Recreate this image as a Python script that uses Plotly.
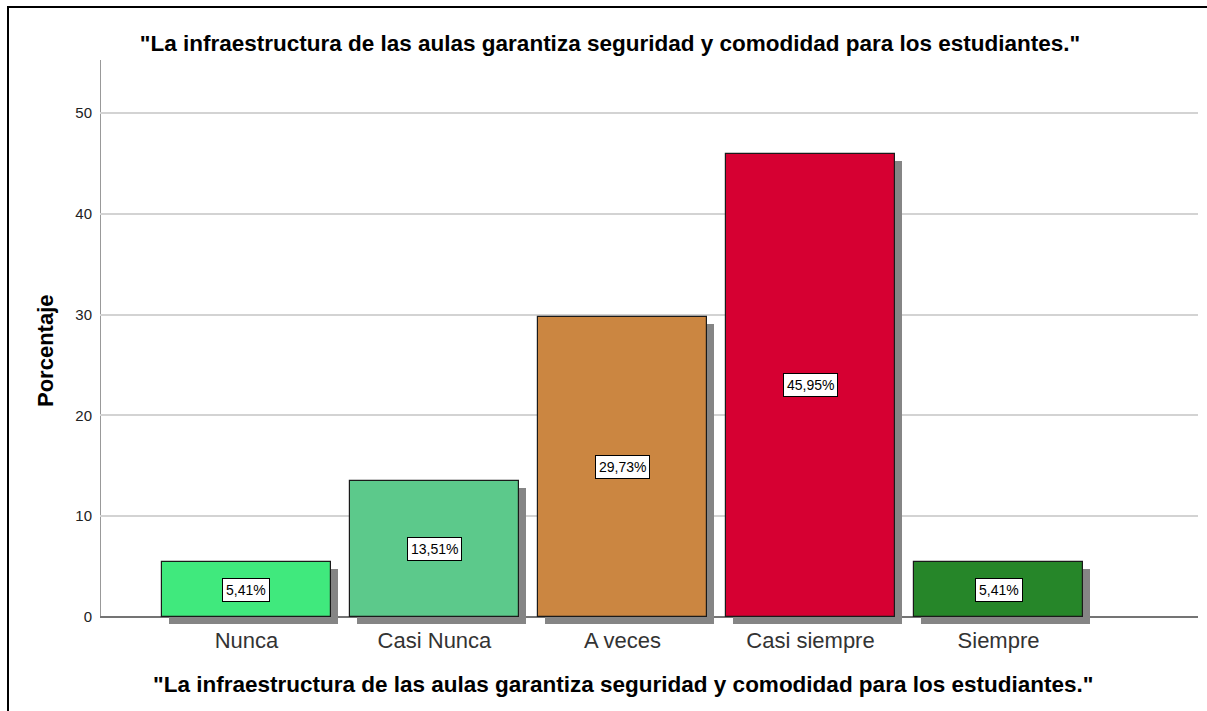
import plotly.graph_objects as go

# ---- data ----
categories = ["Nunca", "Casi Nunca", "A veces", "Casi siempre", "Siempre"]
percentages = [5.41, 13.51, 29.73, 45.95, 5.41]
bar_colors = ["#40E97D", "#5CC98B", "#CB8641", "#D60032", "#268629"]
y_ticks = [0, 10, 20, 30, 40, 50]
title_text = '"La infraestructura de las aulas garantiza seguridad y comodidad para los estudiantes."'
y_title = "Porcentaje"

# ---- geometry (pixels) ----
W, H = 1207, 711
L, R, T, B = 100, 9, 60, 86
plot_w = W - L - R
plot_h = H - T - B
px_y = 10.08
y_range = [-(H - B - 617) / px_y, (617 - T) / px_y]
x_range = [-0.779, 5.061]
px_x = plot_w / (x_range[1] - x_range[0])
shadow_dx = 7 / px_x
shadow_dy = 7 / px_y

idx = list(range(len(categories)))
labels = [f"{v:.2f}".replace(".", ",") + "%" for v in percentages]

FONT = "Arial, Liberation Sans, sans-serif"

fig = go.Figure()

# shadows
fig.add_trace(go.Bar(
    x=[i + shadow_dx for i in idx],
    y=percentages,
    base=[-shadow_dy] * len(idx),
    width=0.9,
    marker=dict(color="#858585", line=dict(width=0)),
    hoverinfo="skip",
    showlegend=False,
))
# bars
fig.add_trace(go.Bar(
    x=idx,
    y=percentages,
    width=0.9,
    marker=dict(color=bar_colors, line=dict(color="#1a1a1a", width=1.2)),
    showlegend=False,
))

# value labels
for i, v, lab in zip(idx, percentages, labels):
    fig.add_annotation(
        x=i, y=v / 2, xref="x", yref="y", text=lab, showarrow=False,
        font=dict(family=FONT, size=14, color="#000000"),
        bgcolor="#FFFFFF", bordercolor="#000000", borderwidth=1, borderpad=3,
    )

# axis lines
fig.add_shape(type="line", xref="x", yref="y", x0=x_range[0], x1=x_range[1], y0=0, y1=0,
              line=dict(color="#555555", width=1.5), layer="between")
fig.add_shape(type="line", xref="x", yref="paper", x0=x_range[0], x1=x_range[0],
              y0=(0 - y_range[0]) / (y_range[1] - y_range[0]), y1=1,
              line=dict(color="#999999", width=2), layer="between")

# outer frame (left and top edges visible)
fig.add_shape(type="rect", xref="paper", yref="paper",
              x0=(8 - L) / plot_w, x1=(W + 10 - L) / plot_w,
              y0=-(H + 10 - (H - B)) / plot_h, y1=1 + (T - 7) / plot_h,
              line=dict(color="#000000", width=2), layer="above")

# x axis title
fig.add_annotation(
    x=(623 - L) / plot_w, y=-(684 - (H - B)) / plot_h, xref="paper", yref="paper",
    text="<b>" + title_text + "</b>", showarrow=False, yanchor="middle",
    font=dict(family=FONT, size=22.5, color="#000000"),
)
# y axis title
fig.add_annotation(
    x=(45 - L) / plot_w, y=1 - (351 - T) / plot_h, xref="paper", yref="paper",
    text="<b>" + y_title + "</b>", showarrow=False, textangle=-90,
    xanchor="center", yanchor="middle",
    font=dict(family=FONT, size=22, color="#000000"),
)

fig.update_layout(
    width=W, height=H,
    margin=dict(l=L, r=R, t=T, b=B),
    paper_bgcolor="#FFFFFF", plot_bgcolor="#FFFFFF",
    barmode="overlay",
    bargap=0,
    title=dict(text="<b>" + title_text + "</b>", x=610 / W, xref="container", xanchor="center",
               y=1 - 43 / H, yref="container", yanchor="middle",
               font=dict(family=FONT, size=22.5, color="#000000")),
    xaxis=dict(range=x_range, tickmode="array", tickvals=idx, ticktext=categories,
               showgrid=False, zeroline=False, showline=False, ticks="",
               tickfont=dict(family=FONT, size=22, color="#333333"), ticklabelstandoff=0),
    yaxis=dict(range=y_range, tickmode="array", tickvals=y_ticks, ticktext=[str(t) for t in y_ticks],
               showgrid=True, gridcolor="#D3D3D3", gridwidth=1.5, zeroline=False, showline=False,
               ticks="", ticklabelstandoff=7,
               tickfont=dict(family=FONT, size=15, color="#222222")),
    font=dict(family=FONT),
)

fig.write_html("out.html", config={"displayModeBar": False},
               post_script="document.body.style.margin='0';document.body.style.overflow='hidden';")
